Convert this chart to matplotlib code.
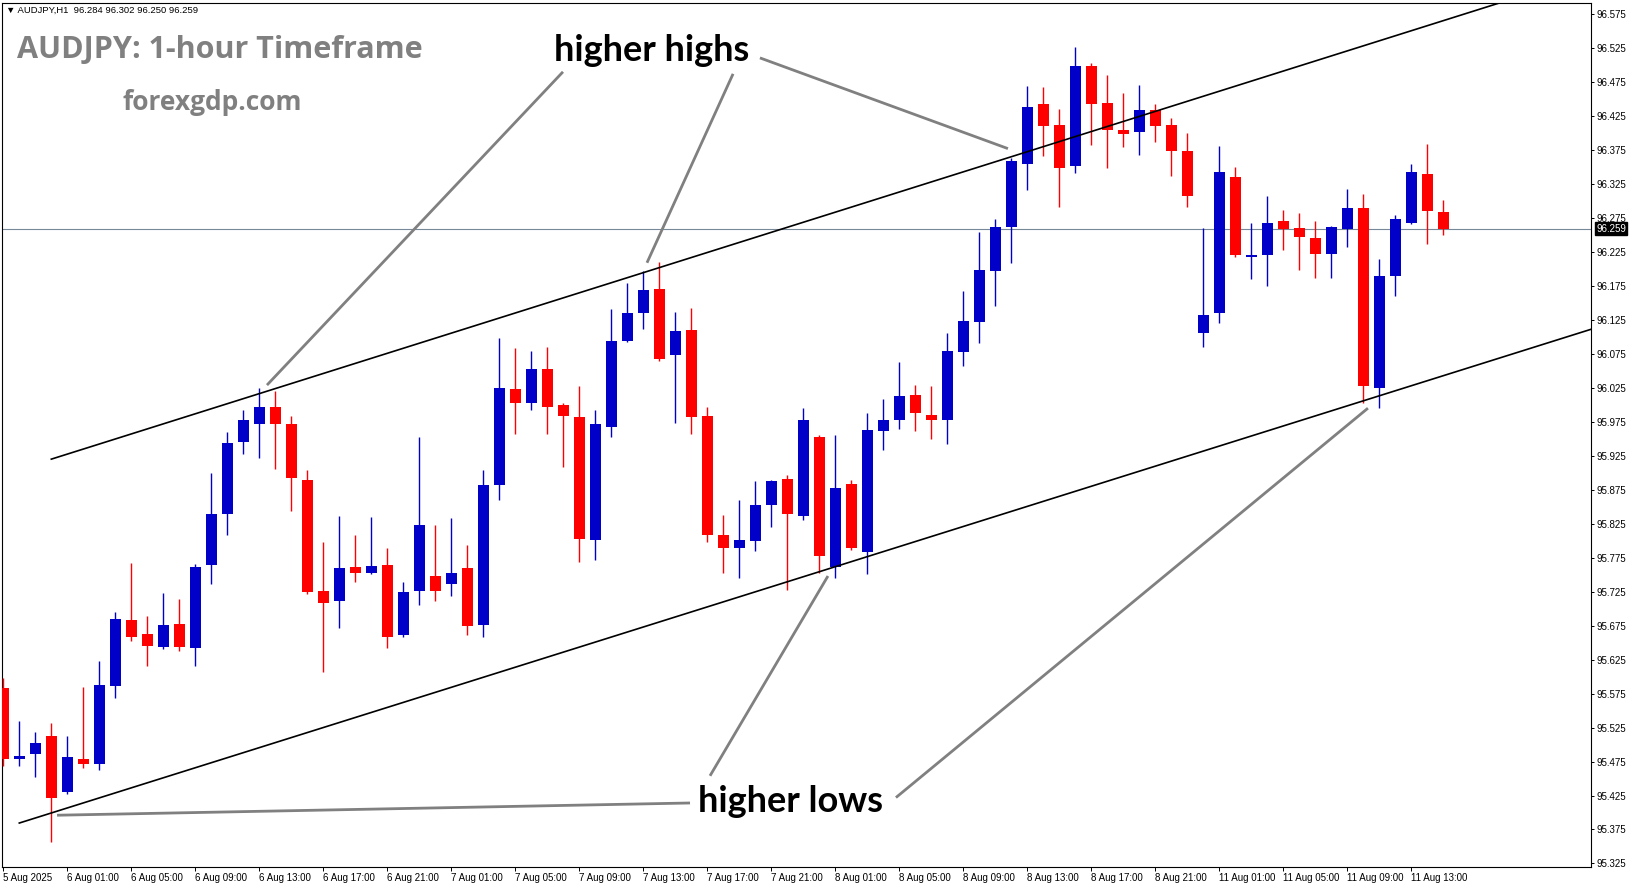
import matplotlib
matplotlib.use("Agg")
import matplotlib.pyplot as plt
import matplotlib.transforms as mtransforms
import numpy as np

# AUDJPY H1 candles (oldest first)
symbol = "AUDJPY,H1"
opens = [95.583, 95.479, 95.486, 95.512, 95.430, 95.479, 95.471, 95.586, 95.683, 95.662,
         95.643, 95.678, 95.642, 95.764, 95.839, 95.945, 95.972, 95.997, 95.972, 95.889,
         95.726, 95.711, 95.762, 95.753, 95.764, 95.661, 95.726, 95.748, 95.736, 95.760,
         95.676, 95.882, 96.023, 96.003, 96.052, 96.000, 95.982, 95.801, 95.967, 96.094,
         96.135, 96.171, 96.073, 96.110, 95.983, 95.808, 95.789, 95.799, 95.852, 95.891,
         95.836, 95.953, 95.762, 95.883, 95.784, 95.961, 95.977, 96.015, 95.985, 95.977,
         96.078, 96.122, 96.197, 96.261, 96.354, 96.442, 96.412, 96.351, 96.498, 96.444,
         96.404, 96.401, 96.434, 96.411, 96.373, 96.105, 96.135, 96.335, 96.218, 96.220,
         96.271, 96.260, 96.246, 96.222, 96.258, 96.289, 96.025, 96.190, 96.267, 96.340,
         96.284]
highs = [95.598, 95.535, 95.518, 95.531, 95.512, 95.585, 95.623, 95.695, 95.767, 95.689,
         95.723, 95.714, 95.766, 95.900, 95.960, 95.992, 96.025, 96.021, 95.983, 95.904,
         95.798, 95.837, 95.808, 95.835, 95.789, 95.739, 95.952, 95.823, 95.834, 95.793,
         95.904, 96.098, 96.083, 96.079, 96.085, 96.002, 96.027, 95.992, 96.141, 96.179,
         96.197, 96.210, 96.136, 96.142, 95.997, 95.838, 95.860, 95.888, 95.890, 95.896,
         95.996, 95.955, 95.956, 95.890, 95.988, 96.008, 96.063, 96.029, 96.027, 96.106,
         96.167, 96.254, 96.273, 96.363, 96.469, 96.467, 96.436, 96.527, 96.503, 96.486,
         96.459, 96.471, 96.443, 96.422, 96.400, 96.260, 96.381, 96.350, 96.268, 96.307,
         96.287, 96.282, 96.271, 96.263, 96.317, 96.310, 96.215, 96.279, 96.354, 96.384,
         96.302]
lows = [95.469, 95.468, 95.452, 95.357, 95.427, 95.465, 95.462, 95.568, 95.652, 95.615,
        95.640, 95.638, 95.615, 95.736, 95.809, 95.927, 95.922, 95.906, 95.844, 95.721,
        95.607, 95.672, 95.739, 95.751, 95.642, 95.658, 95.706, 95.711, 95.719, 95.661,
        95.658, 95.860, 95.957, 95.992, 95.957, 95.908, 95.769, 95.771, 95.953, 96.093,
        96.111, 96.064, 95.973, 95.957, 95.798, 95.753, 95.745, 95.785, 95.820, 95.728,
        95.831, 95.752, 95.745, 95.787, 95.751, 95.934, 95.964, 95.962, 95.950, 95.943,
        96.057, 96.091, 96.145, 96.208, 96.316, 96.366, 96.291, 96.341, 96.382, 96.349,
        96.380, 96.368, 96.387, 96.337, 96.291, 96.085, 96.120, 96.218, 96.185, 96.175,
        96.228, 96.199, 96.187, 96.187, 96.232, 96.003, 95.995, 96.160, 96.266, 96.237,
        96.250]
closes = [95.479, 95.483, 95.502, 95.422, 95.481, 95.472, 95.587, 95.685, 95.659, 95.645,
          95.676, 95.643, 95.762, 95.839, 95.944, 95.977, 95.997, 95.971, 95.892, 95.725,
          95.709, 95.760, 95.753, 95.763, 95.658, 95.725, 95.823, 95.726, 95.753, 95.674,
          95.882, 96.025, 96.003, 96.053, 95.997, 95.983, 95.803, 95.971, 96.094, 96.135,
          96.169, 96.068, 96.109, 95.982, 95.808, 95.789, 95.801, 95.852, 95.888, 95.839,
          95.977, 95.778, 95.877, 95.789, 95.963, 95.977, 96.013, 95.988, 95.977, 96.079,
          96.123, 96.198, 96.262, 96.359, 96.438, 96.410, 96.349, 96.498, 96.443, 96.404,
          96.399, 96.434, 96.410, 96.374, 96.307, 96.132, 96.342, 96.221, 96.221, 96.267,
          96.258, 96.247, 96.222, 96.261, 96.289, 96.027, 96.190, 96.273, 96.342, 96.285,
          96.259]

tick_idx = [0, 4, 8, 12, 16, 20, 24, 28, 32, 36, 40, 44, 48, 52, 56, 60, 64, 68, 72,
            76, 80, 84, 88]
tick_text = ["5 Aug 2025", "6 Aug 01:00", "6 Aug 05:00", "6 Aug 09:00", "6 Aug 13:00",
             "6 Aug 17:00", "6 Aug 21:00", "7 Aug 01:00", "7 Aug 05:00", "7 Aug 09:00",
             "7 Aug 13:00", "7 Aug 17:00", "7 Aug 21:00", "8 Aug 01:00", "8 Aug 05:00",
             "8 Aug 09:00", "8 Aug 13:00", "8 Aug 17:00", "8 Aug 21:00", "11 Aug 01:00",
             "11 Aug 05:00", "11 Aug 09:00", "11 Aug 13:00"]

# channel lines (bar index, price)
upper_x = [3.0, 93.6]
upper_y = [95.920, 96.592]
lower_x = [1.0, 99.3]
lower_y = [95.3845, 96.1116]

# annotation pointer lines: start near the label, end at the swing
hh_start = [(34.98, 96.490), (45.61, 96.487), (47.29, 96.5105)]
hh_end = [(16.48, 96.029), (40.23, 96.209), (62.79, 96.377)]
hl_start = [(42.92, 95.414), (44.17, 95.454), (55.79, 95.422)]
hl_end = [(3.36, 95.396), (51.54, 95.748), (85.29, 95.995)]
hh_label = (40.51, 96.5066)
hl_label = (49.17, 95.401)

BULL = "#0000C8"
BEAR = "#FF0000"

fig = plt.figure(figsize=(16.31, 8.88), dpi=100)
ax = fig.add_axes([0.00123, 0.02365, 0.97394, 0.97353])

o = np.array(opens)
h = np.array(highs)
l = np.array(lows)
c = np.array(closes)
x = np.arange(len(o))
colors = [BULL if cc >= oo else BEAR for oo, cc in zip(o, c)]

ax.vlines(x, l, h, colors=colors, linewidth=1.0, zorder=3)
body_low = np.minimum(o, c)
body_h = np.maximum(np.abs(c - o), 0.0016)
ax.bar(x, body_h, bottom=body_low, width=0.69, color=colors, linewidth=0, zorder=4)

ax.axhline(c[-1], color="#778899", linewidth=0.8, zorder=1)

ax.plot(upper_x, upper_y, color="black", linewidth=1.2, zorder=5)
ax.plot(lower_x, lower_y, color="black", linewidth=1.2, zorder=5)

for (x0, y0), (x1, y1) in zip(hh_start + hl_start, hh_end + hl_end):
    ax.plot([x0, x1], [y0, y1], color="#808080", linewidth=2.0, zorder=6,
            solid_capstyle="butt")

ax.text(hh_label[0], hh_label[1], "higher highs", ha="center", va="baseline",
        fontsize=26, fontweight="bold", family="Lato", color="black", zorder=7)
ax.text(hl_label[0], hl_label[1], "higher lows", ha="center", va="baseline",
        fontsize=26, fontweight="bold", family="Lato", color="black", zorder=7)

ax.set_xlim(-0.081, 99.2)
ax.set_ylim(95.3198, 96.592)

ax.yaxis.tick_right()
yt = np.round(np.arange(95.325, 96.576, 0.05), 3)
ax.set_yticks(yt)
ax.set_yticklabels([f"{v:.3f}" for v in yt], family="Liberation Sans", fontsize=7)
ax.set_xticks(tick_idx)
ax.set_xticklabels(tick_text, family="Liberation Sans", fontsize=7, ha="left")
ax.tick_params(axis="y", direction="out", length=2.2, width=0.7, pad=1.8)
ax.tick_params(axis="x", direction="out", length=2.9, width=0.7, pad=1.5)
for sp in ax.spines.values():
    sp.set_color("black")
    sp.set_linewidth(0.8)

# current price box on the scale
trans = mtransforms.blended_transform_factory(ax.transAxes, ax.transData)
ax.annotate(f"{c[-1]:.3f}", xy=(1.0, c[-1]), xycoords=trans, xytext=(4, 0),
            textcoords="offset points", ha="left", va="center", fontsize=7,
            family="Liberation Sans", color="white",
            bbox=dict(boxstyle="square,pad=0.15", facecolor="black", edgecolor="black"),
            annotation_clip=False)

header = f"\u25bc {symbol}  {o[-1]:.3f} {h[-1]:.3f} {l[-1]:.3f} {c[-1]:.3f}"
fig.text(6 / 1631, 1 - 10 / 888, header, ha="left", va="center", fontsize=6.8,
         family=["Liberation Sans", "DejaVu Sans"], color="black")
fig.text(17 / 1631, 1 - 58 / 888, "AUDJPY: 1-hour Timeframe", ha="left", va="baseline",
         fontsize=22, fontweight="bold", family="Open Sans", color="#808080")
fig.text(123 / 1631, 1 - 110 / 888, "forexgdp.com", ha="left", va="baseline",
         fontsize=19, fontweight="bold", family="Open Sans", color="#808080")

fig.savefig("out.png", dpi=100)
